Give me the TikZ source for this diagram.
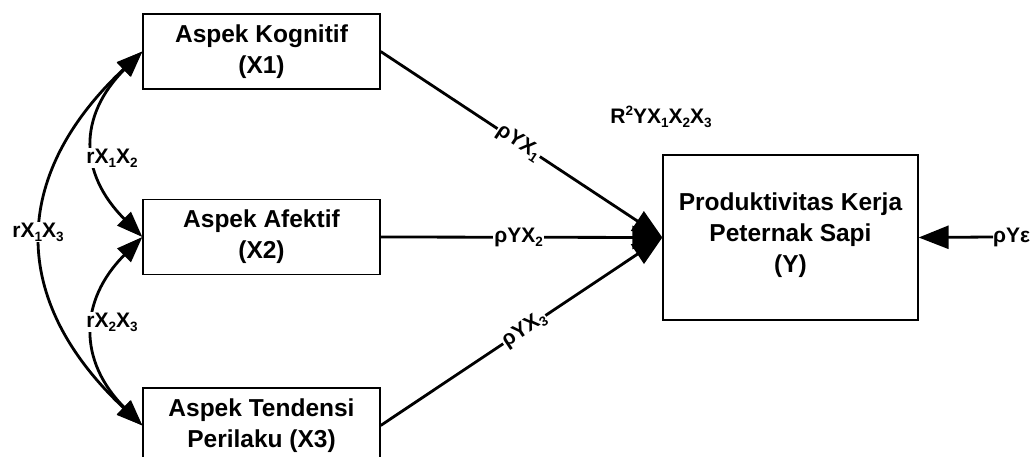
\documentclass[tikz,border=0pt]{standalone}
\usepackage{fontspec}
\setmainfont{Liberation Sans}
\usetikzlibrary{arrows.meta,calc}
\newcommand\lo[1]{\raisebox{-0.35ex}{\fontsize{13.5}{13.5}\selectfont #1}}
\newcommand\hi[1]{\raisebox{0.7ex}{\fontsize{13.5}{13.5}\selectfont #1}}
\begin{document}
\begin{tikzpicture}[x=1pt,y=-1pt,
 box/.style={draw, line width=1.3pt, minimum width=237pt, minimum height=75pt, align=center, font=\fontsize{24.5}{31}\selectfont\bfseries, inner sep=0pt},
 conn/.style={line width=2.8pt, -{Triangle[length=30pt,width=23pt]}},
 dbl/.style={line width=2.8pt, {Triangle[length=26pt,width=19pt]}-{Triangle[length=26pt,width=19pt]}},
 lab/.style={font=\fontsize{21}{24}\selectfont\bfseries, fill=white, inner sep=1pt}]
\useasboundingbox (0,0) rectangle (1036,457);
\node[box] (X1) at (261.5,51.5) {Aspek Kognitif\\(X1)};
\node[box] (X2) at (261.5,237) {Aspek Afektif\\(X2)};
\node[box] (X3) at (261.5,425.5) {Aspek Tendensi\\Perilaku (X3)};
\node[box, minimum width=255pt, minimum height=165pt] (Y) at (790.5,237.5) {Produktivitas Kerja\\Peternak Sapi\\(Y)\\[-21pt]};
\node[lab, anchor=west, inner sep=0pt] (eps) at (993,237) {ρYε};
\node[lab, fill=none] (R2) at (661,117) {R\hi{2}YX\lo{1}X\lo{2}X\lo{3}};
% paths to Y
\draw[conn] (X1.east) -- node[lab, sloped, pos=0.49] (p1) {ρYX\lo{1}} (Y.west);
\draw[conn] (X2.east) -- node[lab, pos=0.49] (p2) {ρYX\lo{2}} (Y.west);
\draw[conn] (X3.east) -- node[lab, sloped, pos=0.51] (p3) {ρYX\lo{3}} (Y.west);
\draw[conn] (eps.west) -- (Y.east);
% correlations
\draw[dbl] (X1.west) .. controls ($(X1.west)+(-64,64)$) and ($(X2.west)+(-64,-64)$) .. (X2.west);
\draw[dbl] (X2.west) .. controls ($(X2.west)+(-64,64)$) and ($(X3.west)+(-64,-64)$) .. (X3.west);
\draw[dbl] (X1.west) .. controls ($(X1.west)+(-133,125)$) and ($(X3.west)+(-133,-125)$) .. (X3.west);
\node[lab] (r12) at (112,158) {rX\lo{1}X\lo{2}};
\node[lab] (r23) at (112,322) {rX\lo{2}X\lo{3}};
\node[lab] (r13) at (38,232) {rX\lo{1}X\lo{3}};
\end{tikzpicture}
\end{document}
